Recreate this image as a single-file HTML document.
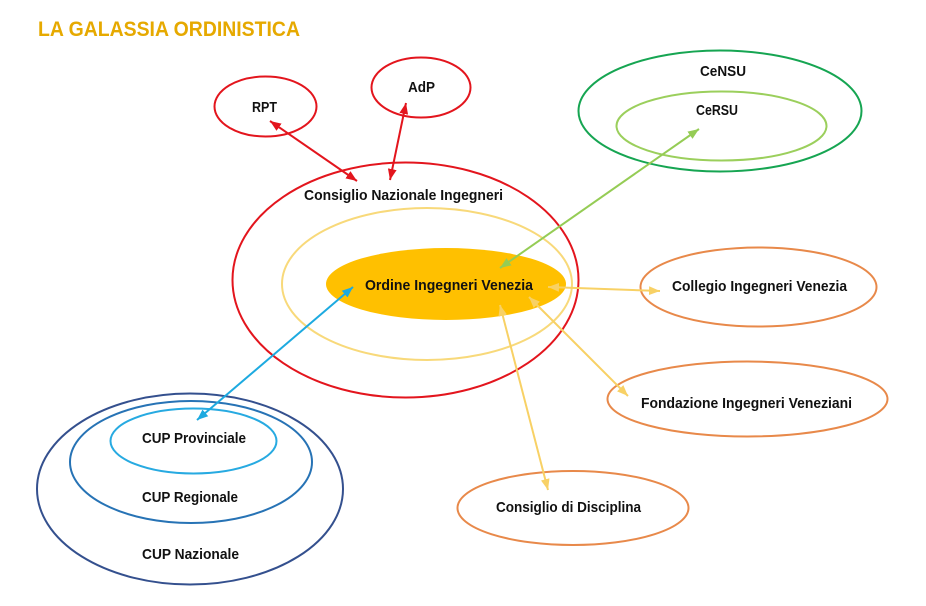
<!DOCTYPE html>
<html>
<head>
<meta charset="utf-8">
<style>
html,body{margin:0;padding:0;background:#fff;}
svg{display:block;}
text{font-family:"Liberation Sans",Arial,sans-serif;font-weight:bold;fill:#111;}
</style>
</head>
<body>
<svg width="926" height="606" viewBox="0 0 926 606" xmlns="http://www.w3.org/2000/svg">
<defs>
  <marker id="mr" viewBox="0 0 10 8" refX="10" refY="4" markerWidth="11" markerHeight="9" markerUnits="userSpaceOnUse" orient="auto-start-reverse"><path d="M0,0 L10,4 L0,8 z" fill="#E3151D"/></marker>
  <marker id="my" viewBox="0 0 10 8" refX="10" refY="4" markerWidth="11" markerHeight="9" markerUnits="userSpaceOnUse" orient="auto-start-reverse"><path d="M0,0 L10,4 L0,8 z" fill="#F8D165"/></marker>
  <marker id="mb" viewBox="0 0 10 8" refX="10" refY="4" markerWidth="11" markerHeight="9" markerUnits="userSpaceOnUse" orient="auto-start-reverse"><path d="M0,0 L10,4 L0,8 z" fill="#1DAAE0"/></marker>
  <marker id="mg" viewBox="0 0 10 8" refX="10" refY="4" markerWidth="11" markerHeight="9" markerUnits="userSpaceOnUse" orient="auto-start-reverse"><path d="M0,0 L10,4 L0,8 z" fill="#95CC55"/></marker>
</defs>

<!-- Title -->
<text x="38" y="36" font-size="21" textLength="262" lengthAdjust="spacingAndGlyphs" style="fill:#E6A900">LA GALASSIA ORDINISTICA</text>

<!-- RPT / AdP -->
<ellipse cx="265.5" cy="106.5" rx="51" ry="30" fill="none" stroke="#E3151D" stroke-width="2"/>
<ellipse cx="421" cy="87.5" rx="49.5" ry="30" fill="none" stroke="#E3151D" stroke-width="2"/>
<text x="252" y="112" font-size="15" textLength="25" lengthAdjust="spacingAndGlyphs">RPT</text>
<text x="408" y="92" font-size="15" textLength="27" lengthAdjust="spacingAndGlyphs">AdP</text>

<!-- CeNSU / CeRSU -->
<ellipse cx="720" cy="111" rx="141.5" ry="60.5" fill="none" stroke="#16A552" stroke-width="2"/>
<ellipse cx="721.5" cy="126" rx="105" ry="34.5" fill="none" stroke="#9BCF5C" stroke-width="2"/>
<text x="700" y="76" font-size="15" textLength="46" lengthAdjust="spacingAndGlyphs">CeNSU</text>
<text x="696" y="115" font-size="15" textLength="42" lengthAdjust="spacingAndGlyphs">CeRSU</text>

<!-- CNI -->
<ellipse cx="405.5" cy="280" rx="173" ry="117.5" fill="none" stroke="#E3151D" stroke-width="2"/>
<ellipse cx="427" cy="284" rx="145" ry="76" fill="none" stroke="#F8D97A" stroke-width="2"/>
<ellipse cx="446" cy="284" rx="120" ry="36" fill="#FFC000"/>
<text x="304" y="200" font-size="15" textLength="199" lengthAdjust="spacingAndGlyphs">Consiglio Nazionale Ingegneri</text>
<text x="365" y="290" font-size="15" textLength="168" lengthAdjust="spacingAndGlyphs">Ordine Ingegneri Venezia</text>

<!-- Orange nodes -->
<ellipse cx="758.5" cy="287" rx="118" ry="39.5" fill="none" stroke="#E8894A" stroke-width="2"/>
<ellipse cx="747.5" cy="399" rx="140" ry="37.5" fill="none" stroke="#E8894A" stroke-width="2"/>
<ellipse cx="573" cy="508" rx="115.5" ry="37" fill="none" stroke="#E8894A" stroke-width="2"/>
<text x="672" y="291" font-size="15" textLength="175" lengthAdjust="spacingAndGlyphs">Collegio Ingegneri Venezia</text>
<text x="641" y="408" font-size="15" textLength="211" lengthAdjust="spacingAndGlyphs">Fondazione Ingegneri Veneziani</text>
<text x="496" y="512" font-size="15" textLength="145" lengthAdjust="spacingAndGlyphs">Consiglio di Disciplina</text>

<!-- CUP -->
<ellipse cx="190" cy="489" rx="153" ry="95.5" fill="none" stroke="#34508E" stroke-width="2"/>
<ellipse cx="191" cy="462" rx="121" ry="61" fill="none" stroke="#2773B5" stroke-width="2"/>
<ellipse cx="193.5" cy="441" rx="83" ry="32.5" fill="none" stroke="#27AAE1" stroke-width="2"/>
<text x="142" y="443" font-size="15" textLength="104" lengthAdjust="spacingAndGlyphs">CUP Provinciale</text>
<text x="142" y="502" font-size="15" textLength="96" lengthAdjust="spacingAndGlyphs">CUP Regionale</text>
<text x="142" y="559" font-size="15" textLength="97" lengthAdjust="spacingAndGlyphs">CUP Nazionale</text>

<!-- Connectors -->
<line x1="270" y1="121" x2="357" y2="181" stroke="#E3151D" stroke-width="2" marker-start="url(#mr)" marker-end="url(#mr)"/>
<line x1="406" y1="103" x2="390" y2="180" stroke="#E3151D" stroke-width="2" marker-start="url(#mr)" marker-end="url(#mr)"/>
<line x1="699" y1="129" x2="500" y2="268" stroke="#95CC55" stroke-width="2" marker-start="url(#mg)" marker-end="url(#mg)"/>
<line x1="353" y1="287" x2="197" y2="420" stroke="#1DAAE0" stroke-width="2" marker-start="url(#mb)" marker-end="url(#mb)"/>
<line x1="548" y1="287" x2="660" y2="291" stroke="#F8D165" stroke-width="2" marker-start="url(#my)" marker-end="url(#my)"/>
<line x1="529" y1="297" x2="628" y2="396" stroke="#F8D165" stroke-width="2" marker-start="url(#my)" marker-end="url(#my)"/>
<line x1="500" y1="305" x2="548" y2="490" stroke="#F8D165" stroke-width="2" marker-start="url(#my)" marker-end="url(#my)"/>
</svg>
</body>
</html>
